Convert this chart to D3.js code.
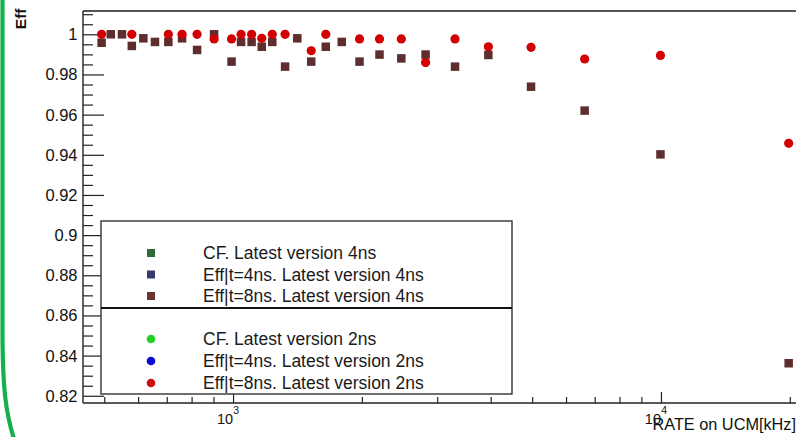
<!DOCTYPE html>
<html>
<head>
<meta charset="utf-8">
<script src="https://cdn.jsdelivr.net/npm/d3@7/dist/d3.min.js"></script>
<style>
  html, body { margin: 0; padding: 0; background: #fff; }
  svg { display: block; font-family: "Liberation Sans", Arial, Helvetica, sans-serif; }
</style>
</head>
<body>
<svg id="chart" width="796" height="437"></svg>
<script>
// Rates on UCM [kHz] and efficiencies (Eff|t=8ns) for the two firmware versions
const rate4ns = [493, 518, 550, 580, 617, 657, 706, 760, 824, 903, 992, 1044, 1105, 1167, 1235,
                 1323, 1413, 1523, 1647, 1795, 1975, 2199, 2473, 2818, 3302, 3950, 4970, 6632, 9973, 19880];
const eff8ns4ns = [0.9958, 1.000, 1.000, 0.9942, 0.998, 0.9962, 0.9962, 0.998, 0.9922, 1.000, 0.9864, 0.9962, 0.9962, 0.9938, 0.9962,
                   0.9839, 0.998, 0.9864, 0.9938, 0.9962, 0.9864, 0.9899, 0.988, 0.9899, 0.9839, 0.9897, 0.9739, 0.962, 0.9402, 0.8362];

const rate2ns = [493, 580, 706, 760, 824, 903, 992, 1044, 1105, 1167, 1235, 1323,
                 1523, 1647, 1975, 2199, 2473, 2818, 3302, 3950, 4970, 6632, 9973, 19880];
const eff8ns2ns = [1.000, 1.000, 1.000, 1.000, 1.000, 0.9977, 0.9977, 1.000, 1.000, 0.998, 1.000, 1.000,
                   0.9918, 1.000, 0.9977, 0.9977, 0.9977, 0.9859, 0.9977, 0.9938, 0.9935, 0.9877, 0.9895, 0.9457];

// Axis ticks
const yMajorTicks = [0.82, 0.84, 0.86, 0.88, 0.90, 0.92, 0.94, 0.96, 0.98, 1.00];
const yTickLabels = ["0.82", "0.84", "0.86", "0.88", "0.9", "0.92", "0.94", "0.96", "0.98", "1"];
const xMajorTicks = [1000, 10000];
const xTickExponents = ["3", "4"];
const xMinorTicks = [500, 600, 700, 800, 900, 2000, 3000, 4000, 5000, 6000, 7000, 8000, 9000, 20000];

// Legend entries
const legendLabels4ns = ["CF. Latest version 4ns", "Eff|t=4ns. Latest version 4ns", "Eff|t=8ns. Latest version 4ns"];
const legendLabels2ns = ["CF. Latest version 2ns", "Eff|t=4ns. Latest version 2ns", "Eff|t=8ns. Latest version 2ns"];

const svg = d3.select("#chart");
const frame = { left: 83, right: 800, top: 11, bottom: 403 };

const x = d3.scaleLog().domain([446, 21130]).range([frame.left, frame.right]);
const y = d3.scaleLinear().domain([0.8164, 1.0116]).range([frame.bottom, frame.top]);

const squareColor = "#5e2e2f";
const circleColor = "#d20000";
const axisColor = "#222";

// Slide border (green rounded outline on the left)
svg.append("path")
  .attr("d", "M2.5,-5 L2.5,330 C2.5,390 6,415 15,442")
  .attr("fill", "none")
  .attr("stroke", "#14b04e")
  .attr("stroke-width", 4.2);

// Frame top line
svg.append("line")
  .attr("x1", frame.left).attr("x2", 796)
  .attr("y1", frame.top).attr("y2", frame.top)
  .attr("stroke", "#555").attr("stroke-width", 1.8);

// Y axis: major ticks (long) and minor ticks every 0.005, drawn inside the frame
const yAxisMajor = d3.axisRight(y).tickValues(yMajorTicks).tickSize(21).tickFormat("");
const yMinor = d3.range(0.82, 1.0116, 0.005).filter(v => !yMajorTicks.some(m => Math.abs(m - v) < 1e-6));
const yAxisMinor = d3.axisRight(y).tickValues(yMinor).tickSize(10).tickFormat("");

const gy = svg.append("g").attr("transform", `translate(${frame.left},0)`);
gy.append("g").call(yAxisMinor);
gy.append("g").call(yAxisMajor);
gy.selectAll("path.domain").remove();
gy.selectAll("line").attr("stroke", axisColor).attr("stroke-width", 1.2);
gy.append("line").attr("x1", 0).attr("x2", 0).attr("y1", frame.top).attr("y2", frame.bottom)
  .attr("stroke", axisColor).attr("stroke-width", 1.4);

// Y tick labels
svg.append("g").selectAll("text")
  .data(yMajorTicks)
  .join("text")
  .attr("x", 77.5)
  .attr("y", d => y(d) + 6)
  .attr("text-anchor", "end")
  .attr("font-size", 16.5)
  .attr("fill", "#111")
  .text((d, i) => yTickLabels[i]);

// Y axis title
svg.append("text")
  .attr("transform", "translate(26,8.5) rotate(-90)")
  .attr("text-anchor", "end")
  .attr("font-size", 15.5)
  .attr("font-weight", "bold")
  .attr("fill", "#111")
  .text("Eff");

// X axis: ticks pointing up into the frame
const gx = svg.append("g").attr("transform", `translate(0,${frame.bottom})`);
gx.append("g").call(d3.axisTop(x).tickValues(xMinorTicks).tickSize(6).tickFormat(""));
gx.append("g").call(d3.axisTop(x).tickValues(xMajorTicks).tickSize(11).tickFormat(""));
gx.selectAll("path.domain").remove();
gx.selectAll("line").attr("stroke", axisColor).attr("stroke-width", 1.2);
gx.append("line").attr("x1", frame.left).attr("x2", 796).attr("y1", 0).attr("y2", 0)
  .attr("stroke", axisColor).attr("stroke-width", 1.4);

// X tick labels: 10^n
const xl = svg.append("g").selectAll("g")
  .data(xMajorTicks)
  .join("g");
xl.append("text")
  .attr("x", d => x(d))
  .attr("y", 423.5)
  .attr("text-anchor", "end")
  .attr("font-size", 14.5)
  .attr("fill", "#111")
  .text("10");
xl.append("text")
  .attr("x", d => x(d) + 0.3)
  .attr("y", 413.5)
  .attr("font-size", 10.5)
  .attr("fill", "#111")
  .text((d, i) => xTickExponents[i]);

// X axis title
svg.append("text")
  .attr("x", 652.5)
  .attr("y", 430)
  .attr("font-size", 16.3)
  .attr("fill", "#111")
  .text("RATE on UCM[kHz]");

// Data: Eff|t=8ns, latest version 4ns (squares)
const sq = 8.5;
svg.append("g").selectAll("rect")
  .data(rate4ns.map((r, i) => [r, eff8ns4ns[i]]))
  .join("rect")
  .attr("x", d => x(d[0]) - sq / 2)
  .attr("y", d => y(d[1]) - sq / 2)
  .attr("width", sq).attr("height", sq)
  .attr("fill", squareColor);

// Data: Eff|t=8ns, latest version 2ns (circles)
svg.append("g").selectAll("circle")
  .data(rate2ns.map((r, i) => [r, eff8ns2ns[i]]))
  .join("circle")
  .attr("cx", d => x(d[0]))
  .attr("cy", d => y(d[1]))
  .attr("r", 4.6)
  .attr("fill", circleColor);

// Legend
const legend = { x0: 101, x1: 512, y0: 221, y1: 394, divider: 308 };
const lg = svg.append("g");
lg.append("rect")
  .attr("x", legend.x0).attr("y", legend.y0)
  .attr("width", legend.x1 - legend.x0).attr("height", legend.y1 - legend.y0)
  .attr("fill", "#fff").attr("stroke", "#333").attr("stroke-width", 1.4);
lg.append("line")
  .attr("x1", legend.x0).attr("x2", legend.x1)
  .attr("y1", legend.divider).attr("y2", legend.divider)
  .attr("stroke", "#111").attr("stroke-width", 2.2);

const rows4 = [253, 274.5, 296];
const rows2 = [339, 361, 383];
const colors4 = ["#2f6c3c", "#37386c", "#6a3334"];
const colors2 = ["#22d122", "#0a0ad2", "#d20f0f"];
const markerX = 151, textX = 203;

legendLabels4ns.forEach((lab, i) => {
  lg.append("rect")
    .attr("x", markerX - 4).attr("y", rows4[i] - 4)
    .attr("width", 8).attr("height", 8)
    .attr("fill", colors4[i]);
  lg.append("text")
    .attr("x", textX).attr("y", rows4[i] + 6.3)
    .attr("font-size", 17.5).attr("fill", "#1a1a1a")
    .text(lab);
});
legendLabels2ns.forEach((lab, i) => {
  lg.append("circle")
    .attr("cx", markerX).attr("cy", rows2[i])
    .attr("r", 4.3)
    .attr("fill", colors2[i]);
  lg.append("text")
    .attr("x", textX).attr("y", rows2[i] + 6.3)
    .attr("font-size", 17.5).attr("fill", "#1a1a1a")
    .text(lab);
});
</script>
</body>
</html>
